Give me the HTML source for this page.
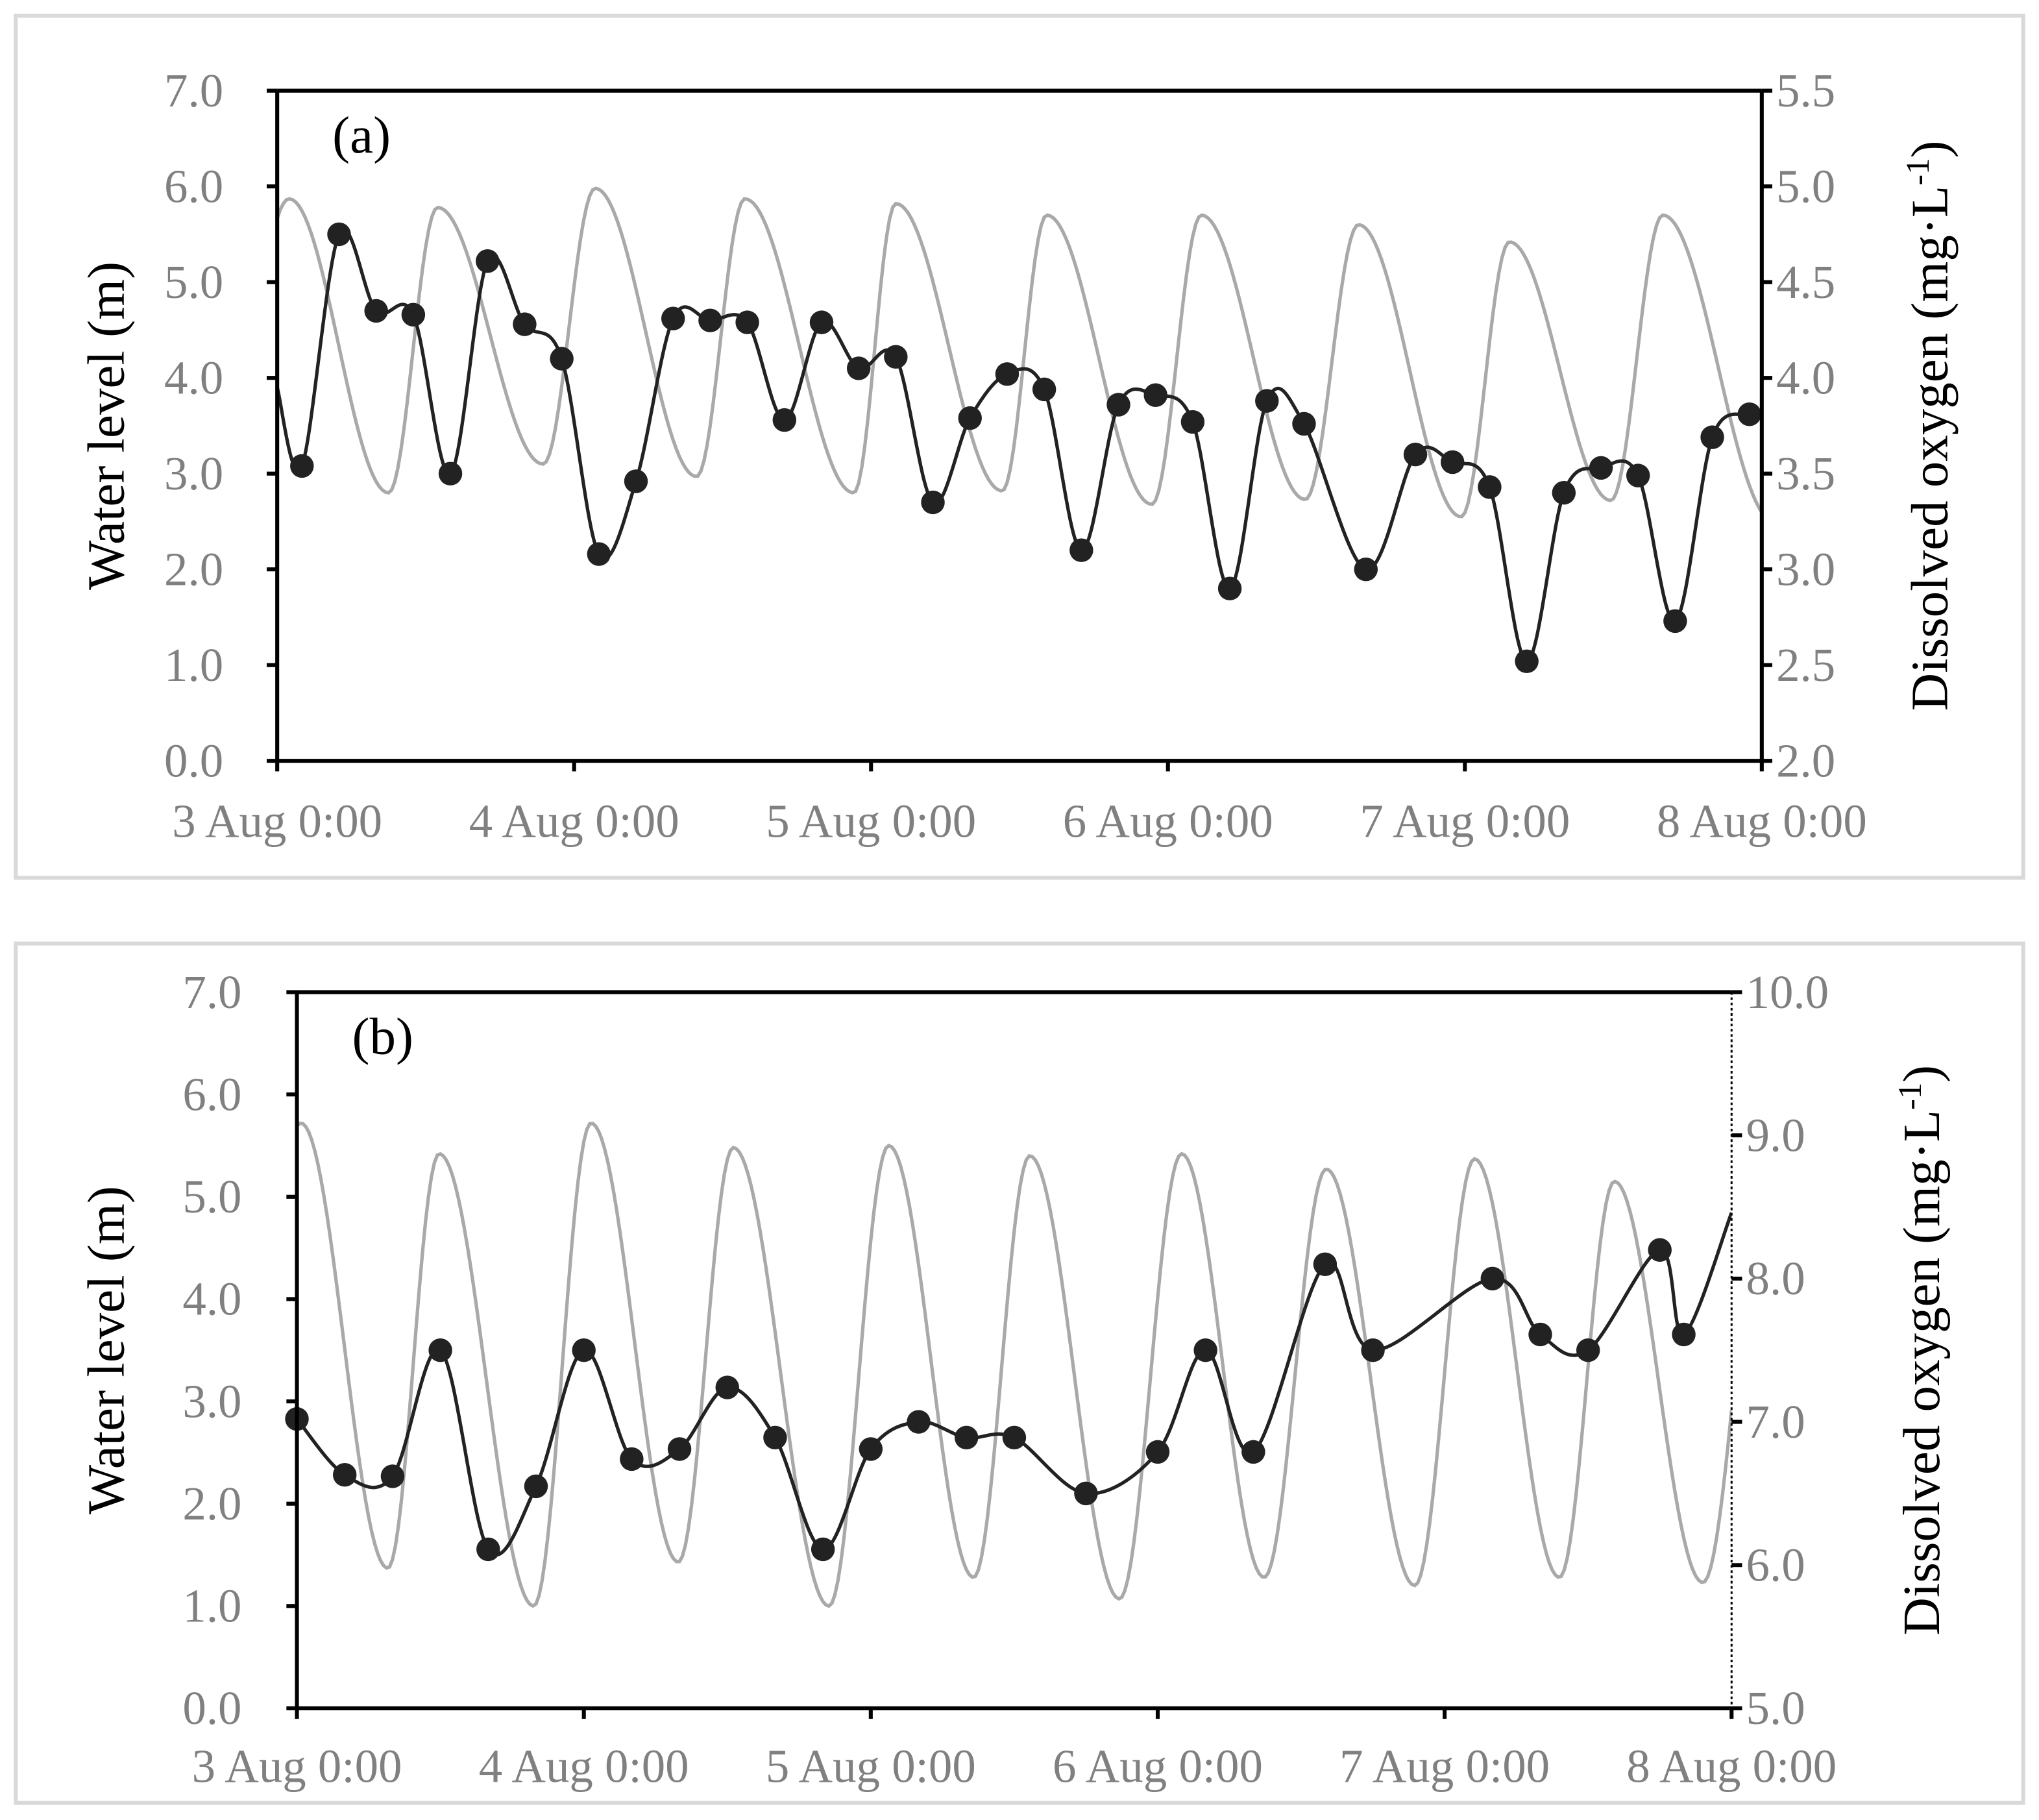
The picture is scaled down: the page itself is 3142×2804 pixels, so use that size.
<!DOCTYPE html>
<html><head><meta charset="utf-8">
<style>
html,body{margin:0;padding:0;background:#fff;}
svg{display:block;}
text{font-family:"Liberation Serif","Times New Roman",serif;}
</style></head>
<body>
<svg id="chart" width="3142" height="2804" viewBox="0 0 1552 1385" preserveAspectRatio="none" xmlns="http://www.w3.org/2000/svg" font-family="Liberation Serif, serif">
<rect x="0" y="0" width="1552" height="1385" fill="#fff"/>
<rect x="12" y="12" width="1528" height="656" fill="none" stroke="#d9d9d9" stroke-width="3"/>
<rect x="12" y="718" width="1528" height="654" fill="none" stroke="#d9d9d9" stroke-width="3"/>
<g id="pa"></g>
<g id="pb"></g>
</svg>
<script>
// ---------- shared labels ----------
const xLabels = ["3 Aug 0:00","4 Aug 0:00","5 Aug 0:00","6 Aug 0:00","7 Aug 0:00","8 Aug 0:00"];
const leftTicks = ["0.0","1.0","2.0","3.0","4.0","5.0","6.0","7.0"];
const rightTicksA = ["2.0","2.5","3.0","3.5","4.0","4.5","5.0","5.5"];
const rightTicksB = ["5.0","6.0","7.0","8.0","9.0","10.0"];

// ---------- Panel (a) data ----------
const doHoursA = [2,5,8,11,14,17,20,23,26,29,32,35,38,41,44,47,50,53,56,59,62,65,68,71,74,77,80,83,88,92,95,98,101,104,107,110,113,116,119];
const doValuesA = [3.54,4.75,4.35,4.33,3.50,4.61,4.28,4.10,3.08,3.46,4.31,4.30,4.29,3.78,4.29,4.05,4.11,3.35,3.79,4.02,3.94,3.10,3.86,3.91,3.77,2.90,3.88,3.76,3.00,3.60,3.56,3.43,2.52,3.40,3.53,3.49,2.73,3.69,3.81];
const doLineStartA = [0,3.95];
const doLineEndA = [120,3.82];
const wlExtHoursA = [-5,0.96,9.0,12.96,21.5,25.7,33.9,37.8,46.6,50.0,58.6,62.2,70.7,74.7,83.1,87.4,95.7,99.6,107.8,112.0,121];
const wlExtValuesA = [2.6,5.87,2.8,5.78,3.1,5.98,2.97,5.87,2.8,5.82,2.82,5.70,2.68,5.70,2.73,5.60,2.55,5.42,2.72,5.70,2.5];

// ---------- Panel (b) data ----------
const doHoursB = [0,4,8,12,16,20,24,28,32,36,40,44,48,52,56,60,66,72,76,80,86,90,100,104,108,114,116];
const doValuesB = [7.02,6.63,6.62,7.5,6.11,6.55,7.5,6.74,6.81,7.24,6.89,6.11,6.81,7.0,6.89,6.89,6.5,6.79,7.5,6.79,8.1,7.5,8.0,7.61,7.5,8.2,7.61];
const doLineEndB = [120,8.46];
const wlExtHoursB = [-6,0.33,7.6,11.9,19.8,24.6,31.9,36.5,44.5,49.5,56.6,61.3,68.8,74.0,80.9,86.1,93.5,98.5,105.6,110.2,117.6,123];
const wlExtValuesB = [1.4,5.72,1.37,5.42,1.0,5.72,1.43,5.48,1.0,5.5,1.28,5.4,1.07,5.42,1.28,5.27,1.2,5.37,1.28,5.15,1.23,5.3];

const NS="http://www.w3.org/2000/svg";
const FF="Liberation Serif, Times New Roman, serif";
function mk(parent,tag,attrs,txt){const e=document.createElementNS(NS,tag);for(const k in attrs)e.setAttribute(k,attrs[k]);if(txt!==undefined)e.textContent=txt;parent.appendChild(e);return e;}

function wlAt(h,eh,ev){
  for(let i=0;i<eh.length-1;i++){
    if(h>=eh[i]&&h<=eh[i+1]){const f=(h-eh[i])/(eh[i+1]-eh[i]);return ev[i]+(ev[i+1]-ev[i])*(1-Math.cos(Math.PI*f))/2;}
  }
  return ev[ev.length-1];
}
function smoothPath(pts){
  let d="M"+pts[0][0].toFixed(2)+","+pts[0][1].toFixed(2);
  for(let i=0;i<pts.length-1;i++){
    const p0=pts[Math.max(0,i-1)],p1=pts[i],p2=pts[i+1],p3=pts[Math.min(pts.length-1,i+2)];
    const t=0.5/3;
    const c1=[p1[0]+(p2[0]-p0[0])*t,p1[1]+(p2[1]-p0[1])*t];
    const c2=[p2[0]-(p3[0]-p1[0])*t,p2[1]-(p3[1]-p1[1])*t];
    d+=" C"+c1[0].toFixed(2)+","+c1[1].toFixed(2)+" "+c2[0].toFixed(2)+","+c2[1].toFixed(2)+" "+p2[0].toFixed(2)+","+p2[1].toFixed(2);
  }
  return d;
}

function panel(g,cfg){
  const {L,R,T,B,rMin,rMax,rTicks,label,eh,ev,dh,dv,start,end,xLabY,lLabX,rLabX,thinRight}=cfg;
  const x=h=>L+(h/120)*(R-L);
  const yl=v=>B-(v/7)*(B-T);
  const yr=v=>B-(v-rMin)/(rMax-rMin)*(B-T);
  const clipId="clip"+label;
  const defs=mk(g,"defs",{});
  const cp=mk(defs,"clipPath",{id:clipId});
  mk(cp,"rect",{x:L,y:T-2,width:R-L,height:B-T+4});
  let pts=[];
  for(let h=0;h<=120.001;h+=0.25)pts.push([x(h),yl(wlAt(h,eh,ev))]);
  const wl=mk(g,"path",{d:"M"+pts.map(p=>p[0].toFixed(2)+","+p[1].toFixed(2)).join(" L"),fill:"none",stroke:"#a9a9a9","stroke-width":2.6,"clip-path":"url(#"+clipId+")"});
  
  
  let dp=[];
  if(start)dp.push([x(start[0]),yr(start[1])]);
  for(let i=0;i<dh.length;i++)dp.push([x(dh[i]),yr(dv[i])]);
  if(end)dp.push([x(end[0]),yr(end[1])]);
  const dl=mk(g,"path",{d:smoothPath(dp),fill:"none",stroke:"#222","stroke-width":2.6,"clip-path":"url(#"+clipId+")"});
  
  
  for(let i=0;i<dh.length;i++){
    const c=mk(g,"circle",{cx:x(dh[i]),cy:yr(dv[i]),r:9,fill:"#222"});
    
    
  }
  mk(g,"line",{x1:L,y1:T,x2:R,y2:T,stroke:"#000","stroke-width":3});
  mk(g,"line",{x1:L,y1:B,x2:R,y2:B,stroke:"#000","stroke-width":3});
  mk(g,"line",{x1:L,y1:T,x2:L,y2:B,stroke:"#000","stroke-width":3});
  mk(g,"line",{x1:R,y1:T,x2:R,y2:B,stroke:"#000","stroke-width":thinRight?1.5:3,"stroke-dasharray":thinRight?"2,2":"none"});
  leftTicks.forEach((t,i)=>{
    const yy=yl(i);
    mk(g,"line",{x1:L-8,y1:yy,x2:L,y2:yy,stroke:"#000","stroke-width":3});
    const tx=mk(g,"text",{x:lLabX,y:yy+12,"text-anchor":"end","font-size":36,fill:"#808080","font-family":FF},t);
    
    
  });
  rTicks.forEach(t=>{
    const yy=yr(parseFloat(t));
    mk(g,"line",{x1:R,y1:yy,x2:R+8,y2:yy,stroke:"#000","stroke-width":3});
    const tx=mk(g,"text",{x:rLabX,y:yy+12,"font-size":36,fill:"#808080","font-family":FF},t);
    
    
  });
  xLabels.forEach((t,i)=>{
    const xx=x(i*24);
    mk(g,"line",{x1:xx,y1:B,x2:xx,y2:B+8,stroke:"#000","stroke-width":3});
    const tx=mk(g,"text",{x:xx,y:xLabY,"text-anchor":"middle","font-size":36,fill:"#808080","font-family":FF},t);
    
    
  });
  const cy=(T+B)/2;
  const yt=mk(g,"text",{x:0,y:0,"text-anchor":"middle","font-size":40,fill:"#000","font-family":FF,transform:"translate(94,"+cy+") rotate(-90)"},"Water level (m)");
  
  
  const rt=mk(g,"text",{x:0,y:0,"text-anchor":"middle","font-size":40,fill:"#000","font-family":FF,transform:"translate("+cfg.rTitleX+","+cy+") rotate(-90)"});
  
  
  mk(rt,"tspan",{},"Dissolved oxygen (mg·L");
  mk(rt,"tspan",{dy:-14,"font-size":25},"-1");
  mk(rt,"tspan",{dy:14},")");
  const pl=mk(g,"text",{x:L+42,y:T+47,"font-size":40,fill:"#000","font-family":FF},"("+label+")");
  
  
}

panel(document.getElementById("pa"),{L:211,R:1341,T:69,B:579,rMin:2,rMax:5.5,rTicks:rightTicksA,label:"a",eh:wlExtHoursA,ev:wlExtValuesA,dh:doHoursA,dv:doValuesA,start:doLineStartA,end:doLineEndA,xLabY:637,lLabX:170,rLabX:1352,rTitleX:1482,thinRight:false});
panel(document.getElementById("pb"),{L:226,R:1318,T:755,B:1300,rMin:5,rMax:10,rTicks:rightTicksB,label:"b",eh:wlExtHoursB,ev:wlExtValuesB,dh:doHoursB,dv:doValuesB,start:null,end:doLineEndB,xLabY:1356,lLabX:184,rLabX:1329,rTitleX:1476,thinRight:true});
</script>
</body></html>
